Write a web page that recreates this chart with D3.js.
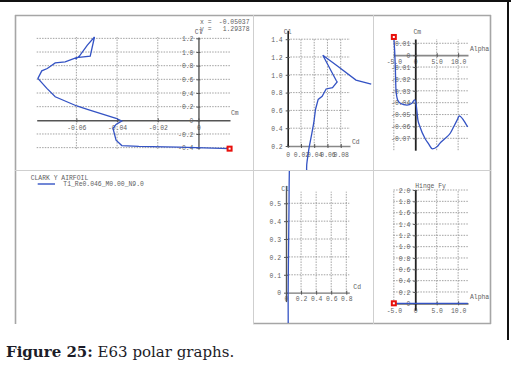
<!DOCTYPE html>
<html>
<head>
<meta charset="utf-8">
<script src="https://cdn.jsdelivr.net/npm/d3@7"></script>
<style>
  body { margin: 0; background: #fff; }
  svg text { font-family: "Liberation Mono", "DejaVu Sans Mono", monospace; }
</style>
</head>
<body>
<div id="chart"></div>
<script>
// one polar, T1_Re0.046_M0.00_N9.0
var alpha = [-5.0, -4.65, -4.5, -4.11, -3.49, -1.94, -0.78, -0.16, 0.16, 0.62, 1.05, 2.31,
             3.07, 4.0, 5.1, 5.73, 6.87, 8.2, 9.0, 9.96, 10.25, 11.24, 11.9, 12.25];
var cl = [-0.415, -0.393, -0.381, -0.37, -0.29, -0.117, -0.06, -0.01, 0.03, 0.16, 0.21, 0.345,
          0.467, 0.613, 0.724, 0.759, 0.841, 0.856, 0.919, 0.939, 1.22, 1.10, 0.94, 0.895];
var cd = [0.042, 0.037, 0.034, 0.032, 0.030, 0.029, 0.0285, 0.0287, 0.0293, 0.0318, 0.033, 0.0365,
          0.0395, 0.042, 0.046, 0.052, 0.058, 0.0676, 0.0746, 0.073, 0.053, 0.075, 0.103, 0.126];
var cm = [0.0153, -0.0097, -0.0293, -0.0377, -0.0405, -0.042, -0.0405, -0.0377, -0.0405, -0.0546, -0.0598, -0.0704,
          -0.0745, -0.0789, -0.077, -0.0743, -0.0704, -0.0655, -0.060, -0.0532, -0.0511, -0.0546, -0.0585, -0.0604];
var hingeFy = [0, 0, 0, 0, 0, 0, 0, 0, 0, 0, 0, 0,
               0, 0, 0, 0, 0, 0, 0, 0, 0, 0, 0, 0];

// tick values and their labels, per graph
var cmClXTicks = [-0.06, -0.04, -0.02, 0],
    cmClXLabels = ["-0.06", "-0.04", "-0.02", "0"];
var cmClYTicks = [1.2, 1.0, 0.8, 0.6, 0.4, 0.2, 0, -0.2, -0.4],
    cmClYLabels = ["1.2", "1.0", "0.8", "0.6", "0.4", "0.2", "0", "-0.2", "-0.4"];
var cdClXTicks = [0, 0.02, 0.04, 0.06, 0.08],
    cdClXLabels = ["0", "0.02", "0.04", "0.06", "0.08"];
var cdClYTicks = [1.4, 1.2, 1.0, 0.8, 0.6, 0.4, 0.2],
    cdClYLabels = ["1.4", "1.2", "1.0", "0.8", "0.6", "0.4", "0.2"];
var alphaXTicks = [-5, 0, 5, 10],
    alphaXLabels = ["-5.0", "0", "5.0", "10.0"];
var cmYTicks = [0.01, 0, -0.01, -0.02, -0.03, -0.04, -0.05, -0.06, -0.07],
    cmYLabels = ["0.01", "0", "-0.01", "-0.02", "-0.03", "-0.04", "-0.05", "-0.06", "-0.07"];
var cd2XTicks = [0, 0.2, 0.4, 0.6, 0.8],
    cd2XLabels = ["0", "0.2", "0.4", "0.6", "0.8"];
var cl2YTicks = [0.5, 0.4, 0.3, 0.2, 0.1, 0],
    cl2YLabels = ["0.5", "0.4", "0.3", "0.2", "0.1", "0"];
var hingeYTicks = [2.0, 1.8, 1.6, 1.4, 1.2, 1.0, 0.8, 0.6, 0.4, 0.2, 0],
    hingeYLabels = ["2.0", "1.8", "1.6", "1.4", "1.2", "1.0", "0.8", "0.6", "0.4", "0.2", "0"];

var legendTitle = "CLARK Y AIRFOIL",
    legendName = "T1_Re0.046_M0.00_N9.0";
var cursorX = "-0.05037", cursorY = "1.29378";

var curveColour = "#3453c4";
var labelColour = "#5e5e5e";

var svg = d3.select("#chart").append("svg")
    .attr("width", 511)
    .attr("height", 366);

// page edges from the original document
svg.append("rect").attr("x", 0).attr("y", 0).attr("width", 511).attr("height", 2).attr("fill", "#111");
svg.append("rect").attr("x", 507).attr("y", 0).attr("width", 2).attr("height", 340).attr("fill", "#111");

// window frame and the panel dividers
function rule(x1, y1, x2, y2, colour, w) {
    svg.append("line")
        .attr("x1", x1).attr("y1", y1).attr("x2", x2).attr("y2", y2)
        .attr("stroke", colour).attr("stroke-width", w);
}
rule(15.5, 15, 15.5, 324, "#a6a6a6", 1.6);
rule(15, 15.5, 491, 15.5, "#a6a6a6", 1.6);
rule(490.5, 15, 490.5, 324, "#a6a6a6", 1.6);
rule(253, 323.5, 491, 323.5, "#a6a6a6", 1.4);
rule(253.5, 15, 253.5, 324, "#cfcfcf", 1);
rule(373.5, 15, 373.5, 324, "#cfcfcf", 1);
rule(15, 170.5, 491, 170.5, "#cfcfcf", 1);

var panels = [
    {   // Cl against Cm
        box: [16, 16, 253, 170],
        xVal: cm, yVal: cl,
        xDomain: [-0.0795, 0.0155], xRange: [36.7, 230],
        yDomain: [-0.42, 1.22], yRange: [149, 37],
        xAxisAt: 0, yAxisAt: 0,
        xTicks: cmClXTicks, xLabels: cmClXLabels,
        yTicks: cmClYTicks, yLabels: cmClYLabels,
        gridX: [-0.0795, 0.0155], gridY: [-0.42, 1.22],
        xLabelDy: 7.5,
        xAxisColour: "#555", yAxisColour: "#555", axisWidth: 1.4,
        xTitle: ["Cm", 1, -7.5], yTitle: ["Cl", 0, -5, "middle"]
    },
    {   // Cl against Cd
        box: [254, 16, 373, 170],
        xVal: cd, yVal: cl,
        xDomain: [0, 0.094], xRange: [287.7, 350],
        yDomain: [0.2, 1.5], yRange: [146, 30.3],
        xAxisAt: 0.2, yAxisAt: 0,
        xTicks: cdClXTicks, xLabels: cdClXLabels,
        yTicks: cdClYTicks, yLabels: cdClYLabels,
        gridX: [0, 0.094], gridY: [0.2, 1.4],
        xLabelDy: 9,
        xAxisColour: "#888", yAxisColour: "#222", axisWidth: 1.6,
        xTitle: ["Cd", 2, -4.5], yTitle: ["Cl", 0, 1, "middle"]
    },
    {   // Cm against alpha
        box: [374, 16, 490, 170],
        xVal: alpha, yVal: cm, smooth: true,
        xDomain: [-5.1, 12.3], xRange: [393.4, 468],
        yDomain: [-0.08, 0.0136], yRange: [150.2, 39],
        xAxisAt: 0, yAxisAt: 0,
        xTicks: alphaXTicks, xLabels: alphaXLabels,
        yTicks: cmYTicks, yLabels: cmYLabels,
        gridX: [-5.1, 12.3], gridY: [-0.08, 0.0136],
        xLabelDy: 6.5,
        xAxisColour: "#888", yAxisColour: "#222", axisWidth: 1.8,
        xTitle: ["Alpha", 2, -6], yTitle: ["Cm", 2, -7, "middle"]
    },
    {   // Cl against Cd, wide scale
        box: [254, 171, 373, 323],
        xVal: cd, yVal: cl,
        xDomain: [0, 0.84], xRange: [286, 349.3],
        yDomain: [-0.05, 0.6], yRange: [301.6, 185.4],
        xAxisAt: 0, yAxisAt: 0,
        xTicks: cd2XTicks, xLabels: cd2XLabels,
        yTicks: cl2YTicks, yLabels: cl2YLabels,
        gridX: [0, 0.84], gridY: [0, 0.565],
        xLabelDy: 6,
        xAxisColour: "#777", yAxisColour: "#555", axisWidth: 1.4,
        xTitle: ["Cd", 4, -6], yTitle: ["Cl", -1, 3, "middle"]
    },
    {   // hinge moment against alpha
        box: [374, 171, 490, 323],
        xVal: alpha, yVal: hingeFy,
        xDomain: [-5.1, 12.3], xRange: [393.4, 468],
        yDomain: [-0.12, 2.0], yRange: [310.1, 190],
        xAxisAt: 0, yAxisAt: 0,
        xTicks: alphaXTicks, xLabels: alphaXLabels,
        yTicks: hingeYTicks, yLabels: hingeYLabels,
        gridX: [-5.1, 12.3], gridY: [0, 2.0],
        xLabelDy: 7,
        xAxisColour: "#666", yAxisColour: "#222", axisWidth: 1.8,
        xTitle: ["Alpha", 2, -7], yTitle: ["Hinge Fy", 0, -4, "start"]
    }
];

panels.forEach(function(p, k) {
    var g = svg.append("g");
    var x = d3.scaleLinear().domain(p.xDomain).range(p.xRange);
    var y = d3.scaleLinear().domain(p.yDomain).range(p.yRange);
    var x0 = x(p.yAxisAt), y0 = y(p.xAxisAt);

    // dotted grid
    g.selectAll(".vgrid")
        .data(p.xTicks.filter(function(v) { return v !== p.yAxisAt; }))
        .enter().append("line")
        .attr("x1", function(d) { return x(d); }).attr("x2", function(d) { return x(d); })
        .attr("y1", y(p.gridY[0])).attr("y2", y(p.gridY[1]))
        .attr("stroke", "#8a8a8a").attr("stroke-width", 0.8).attr("stroke-dasharray", "1.5,1.2");
    g.selectAll(".hgrid")
        .data(p.yTicks.filter(function(v) { return v !== p.xAxisAt; }))
        .enter().append("line")
        .attr("x1", x(p.gridX[0])).attr("x2", x(p.gridX[1]))
        .attr("y1", function(d) { return y(d); }).attr("y2", function(d) { return y(d); })
        .attr("stroke", "#8a8a8a").attr("stroke-width", 0.8).attr("stroke-dasharray", "1.5,1.2");

    // axes, crossing at zero
    var xAxis = d3.axisBottom(x)
        .tickValues(p.xTicks)
        .tickFormat(function(d, i) { return p.xLabels[i]; })
        .tickSizeInner(2).tickSizeOuter(0);
    var xg = g.append("g").attr("transform", "translate(0," + y0 + ")").call(xAxis);
    xg.select(".domain").attr("stroke", p.xAxisColour).attr("stroke-width", p.axisWidth);
    xg.selectAll(".tick line").attr("y1", -2).attr("y2", 2).attr("stroke", "#555");
    xg.selectAll(".tick text")
        .attr("y", p.xLabelDy).attr("dy", "0.35em")
        .attr("fill", labelColour).style("font-size", "6.4px");

    var yAxis = d3.axisLeft(y)
        .tickValues(p.yTicks)
        .tickFormat(function(d, i) { return p.yLabels[i]; })
        .tickSizeInner(2).tickSizeOuter(0);
    var yg = g.append("g").attr("transform", "translate(" + x0 + ",0)").call(yAxis);
    yg.select(".domain").attr("stroke", p.yAxisColour).attr("stroke-width", p.axisWidth);
    yg.selectAll(".tick line").attr("x1", -2).attr("x2", 2).attr("stroke", "#555");
    yg.selectAll(".tick text")
        .attr("x", -5).attr("dy", "0.35em")
        .attr("fill", labelColour).style("font-size", "6.4px");

    // axis names
    g.append("text")
        .attr("x", x(p.xDomain[1]) + p.xTitle[1])
        .attr("y", y0 + p.xTitle[2]).attr("dy", "0.35em")
        .attr("fill", labelColour).style("font-size", "6.4px")
        .text(p.xTitle[0]);
    g.append("text")
        .attr("x", x0 + p.yTitle[1])
        .attr("y", y(p.yDomain[1]) + p.yTitle[2]).attr("dy", "0.35em")
        .attr("text-anchor", p.yTitle[3])
        .attr("fill", labelColour).style("font-size", "6.4px")
        .text(p.yTitle[0]);

    // the polar, clipped to its panel
    svg.append("clipPath").attr("id", "clip" + k)
        .append("rect")
        .attr("x", p.box[0]).attr("y", p.box[1])
        .attr("width", p.box[2] - p.box[0]).attr("height", p.box[3] - p.box[1]);

    var pts = alpha.map(function(a, i) { return { x: p.xVal[i], y: p.yVal[i] }; });
    var line = d3.line()
        .x(function(d) { return x(d.x); })
        .y(function(d) { return y(d.y); })
        .curve(p.smooth ? d3.curveMonotoneX : d3.curveLinear);

    var cg = g.append("g").attr("clip-path", "url(#clip" + k + ")");
    cg.append("path").datum(pts)
        .attr("d", line)
        .attr("fill", "none")
        .attr("stroke", curveColour)
        .attr("stroke-width", 1.3);

    // current-point marker on the first operating point
    cg.append("rect")
        .attr("x", x(pts[0].x) - 2).attr("y", y(pts[0].y) - 2)
        .attr("width", 4).attr("height", 4)
        .attr("fill", "#fff").attr("stroke", "#e8100c").attr("stroke-width", 2);
});

// cursor readout, top right of the first graph
var ro = svg.append("g").attr("fill", labelColour).style("font-size", "6.4px");
ro.append("text").attr("x", 200).attr("y", 21.7).attr("dy", "0.35em").text("x =");
ro.append("text").attr("x", 249.5).attr("y", 21.7).attr("dy", "0.35em").attr("text-anchor", "end").text(cursorX);
ro.append("text").attr("x", 200).attr("y", 29).attr("dy", "0.35em").text("y =");
ro.append("text").attr("x", 249.5).attr("y", 29).attr("dy", "0.35em").attr("text-anchor", "end").text(cursorY);

// legend
var lg = svg.append("g").style("font-size", "6.4px").attr("fill", labelColour);
lg.append("text").attr("x", 30.7).attr("y", 177.3).attr("dy", "0.35em").text(legendTitle);
lg.append("line").attr("x1", 37.7).attr("x2", 55).attr("y1", 184).attr("y2", 184)
    .attr("stroke", curveColour).attr("stroke-width", 1.4);
lg.append("text").attr("x", 63.3).attr("y", 183.3).attr("dy", "0.35em").text(legendName);

// caption below the screenshot
var cap = svg.append("text")
    .attr("x", 6).attr("y", 357)
    .style("font-family", "'DejaVu Serif', serif")
    .style("font-size", "15px")
    .attr("fill", "#1c1c28");
cap.append("tspan").style("font-weight", "bold").text("Figure 25:");
cap.append("tspan").text(" E63 polar graphs.");
</script>
</body>
</html>
